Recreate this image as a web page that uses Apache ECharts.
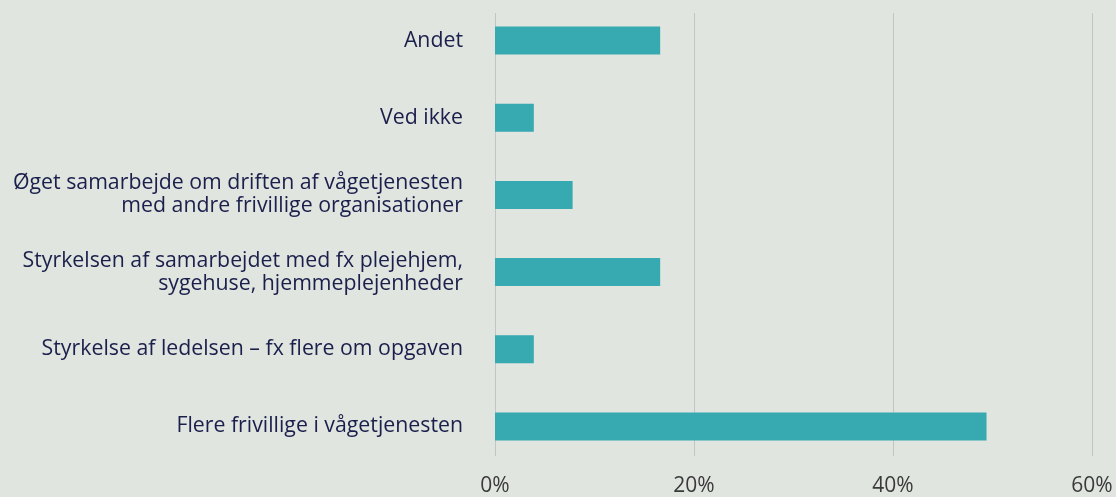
<!DOCTYPE html>
<html><head><meta charset="utf-8">
<script src="https://cdn.jsdelivr.net/npm/echarts@6/dist/echarts.min.js"></script>
<style>html,body{margin:0;padding:0;background:#e0e5e0;}#c{width:1116px;height:497px;}</style>
</head><body><div id="c"></div>
<script>
const categories = [
  'Flere frivillige i vågetjenesten',
  'Styrkelse af ledelsen – fx flere om opgaven',
  'Styrkelsen af samarbejdet med fx plejehjem,\nsygehuse, hjemmeplejenheder',
  'Øget samarbejde om driften af vågetjenesten\nmed andre frivillige organisationer',
  'Ved ikke',
  'Andet'
];
const values = [49.4, 3.9, 16.6, 7.8, 3.9, 16.6];
const xMin = 0, xMax = 60, xStep = 20;

const chart = echarts.init(document.getElementById('c'));
const font = '"Open Sans", sans-serif';
chart.setOption({
  backgroundColor: '#e0e5e0',
  animation: false,
  grid: [
    {left: 495, right: 24, top: 2, bottom: 32},
    {left: 495, right: 24, top: 13, bottom: 38}
  ],
  xAxis: [
    {gridIndex: 0, type: 'value', min: xMin, max: xMax, interval: xStep,
     axisLabel: {show: false}, axisLine: {show: false}, axisTick: {show: false}, splitLine: {show: false}},
    {gridIndex: 1, type: 'value', min: xMin, max: xMax, interval: xStep,
     axisLine: {show: false}, axisTick: {show: false},
     splitLine: {show: true, lineStyle: {color: '#c2c6c2', width: 1}},
     axisLabel: {formatter: '{value}%', fontSize: 21, color: '#3a3a3a', fontFamily: font, margin: 20}}
  ],
  yAxis: [
    {gridIndex: 0, type: 'category', data: categories,
     axisLine: {show: false}, axisTick: {show: false},
     axisLabel: {fontSize: 21.3, color: '#1b1f4b', fontFamily: font, margin: 32, lineHeight: 23, align: 'right', padding: [3, 0, 0, 0]}},
    {gridIndex: 1, type: 'value', show: false}
  ],
  series: [{
    type: 'bar', xAxisIndex: 0, yAxisIndex: 0, data: values, barWidth: 28,
    itemStyle: {color: '#37a9b0'}
  }]
});
</script></body></html>
